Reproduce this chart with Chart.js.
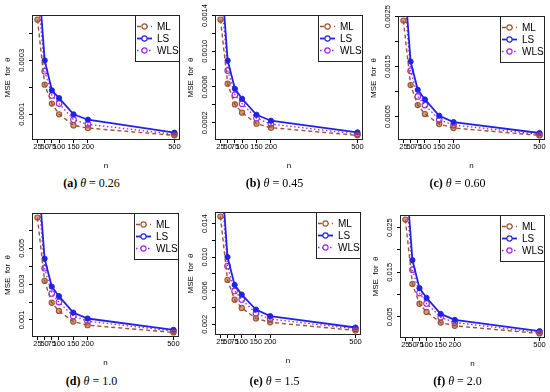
<!DOCTYPE html>
<html>
<head>
<meta charset="utf-8">
<script src="https://cdn.jsdelivr.net/npm/chart.js@4.4.1/dist/chart.umd.min.js"></script>
<style>
  body { margin: 0; background: #fff; }
  #wrap { position: relative; width: 550px; height: 392px; overflow: hidden; }
  canvas { position: absolute; }
  .cap { position: absolute; width: 183px; text-align: center; font-family: "Liberation Serif", serif; font-size: 12px; line-height: 14px; color: #000; }
</style>
</head>
<body>
<div id="wrap"></div>
<script>
const nValues = [25, 50, 75, 100, 150, 200, 500];

// (a) theta = 0.26
const mlA  = [0.000451, 0.000210, 0.000140, 0.000100, 0.000059, 0.000049, 0.000022];
const lsA  = [0.000660, 0.000300, 0.000189, 0.000160, 0.000100, 0.000080, 0.000032];
const wlsA = [0.000570, 0.000260, 0.000170, 0.000140, 0.000080, 0.000063, 0.000026];
// (b) theta = 0.45
const mlB  = [0.001354, 0.000636, 0.000404, 0.000312, 0.000189, 0.000144, 0.000058];
const lsB  = [0.001980, 0.000896, 0.000580, 0.000468, 0.000289, 0.000222, 0.000092];
const wlsB = [0.001720, 0.000784, 0.000513, 0.000412, 0.000251, 0.000184, 0.000073];
// (c) theta = 0.60
const mlC  = [0.002420, 0.001128, 0.000728, 0.000548, 0.000348, 0.000268, 0.000120];
const lsC  = [0.003520, 0.001600, 0.001034, 0.000840, 0.000514, 0.000388, 0.000168];
const wlsC = [0.003110, 0.001414, 0.000900, 0.000728, 0.000434, 0.000328, 0.000140];
// (d) theta = 1.0
const mlD  = [0.00671, 0.003175, 0.00196, 0.00150, 0.00091, 0.000707, 0.000304];
const lsD  = [0.00972, 0.00442, 0.00286, 0.002325, 0.00141, 0.00108, 0.000448];
const wlsD = [0.00856, 0.00389, 0.002474, 0.001994, 0.00122, 0.00093, 0.000376];
// (e) theta = 1.5
const mlE  = [0.01485, 0.00729, 0.00492, 0.00395, 0.00270, 0.00223, 0.00126];
const lsE  = [0.02200, 0.01002, 0.00670, 0.00554, 0.00375, 0.00297, 0.00161];
const wlsE = [0.01960, 0.00893, 0.00597, 0.00496, 0.00332, 0.00262, 0.00145];
// (f) theta = 2.0
const mlF  = [0.02682, 0.01240, 0.00795, 0.00611, 0.00373, 0.00300, 0.00129];
const lsF  = [0.03900, 0.01772, 0.01144, 0.00928, 0.00567, 0.00433, 0.00180];
const wlsF = [0.03430, 0.01557, 0.01033, 0.00802, 0.00491, 0.00373, 0.00151];

// y axis ticks, only some of them carry a label (like R drops overlapping ones)
const yTicksA = [0.0001, 0.0002, 0.0003, 0.0004];
const yLabelsA = ["0.0001", "", "0.0003", ""];
const yTicksB = [0.0002, 0.0004, 0.0006, 0.0008, 0.0010, 0.0012, 0.0014];
const yLabelsB = ["0.0002", "", "0.0006", "", "0.0010", "", "0.0014"];
const yTicksC = [0.0005, 0.0010, 0.0015, 0.0020, 0.0025];
const yLabelsC = ["0.0005", "", "0.0015", "", "0.0025"];
const yTicksD = [0.001, 0.002, 0.003, 0.004, 0.005, 0.006];
const yLabelsD = ["0.001", "", "0.003", "", "0.005", ""];
const yTicksE = [0.002, 0.004, 0.006, 0.008, 0.010, 0.012, 0.014];
const yLabelsE = ["0.002", "", "0.006", "", "0.010", "", "0.014"];
const yTicksF = [0.005, 0.010, 0.015, 0.020, 0.025];
const yLabelsF = ["0.005", "", "0.015", "", "0.025"];

const seriesNames = ["ML", "LS", "WLS"];
const letters = ["a", "b", "c", "d", "e", "f"];
const thetas = ["0.26", "0.45", "0.60", "1.0", "1.5", "2.0"];

const SANS = '"Liberation Sans", Arial, sans-serif';
const wrap = document.getElementById("wrap");

const panels = [
  { ml: mlA, ls: lsA, wls: wlsA, yTicks: yTicksA, yLabels: yLabelsA, box: [32, 15, 181, 140] },
  { ml: mlB, ls: lsB, wls: wlsB, yTicks: yTicksB, yLabels: yLabelsB, box: [215, 15, 364, 140] },
  { ml: mlC, ls: lsC, wls: wlsC, yTicks: yTicksC, yLabels: yLabelsC, box: [398, 16, 546, 140] },
  { ml: mlD, ls: lsD, wls: wlsD, yTicks: yTicksD, yLabels: yLabelsD, box: [32, 213, 180, 337] },
  { ml: mlE, ls: lsE, wls: wlsE, yTicks: yTicksE, yLabels: yLabelsE, box: [215, 212, 362, 335] },
  { ml: mlF, ls: lsF, wls: wlsF, yTicks: yTicksF, yLabels: yLabelsF, box: [400, 215, 546, 338] },
];

function pairs(vals) {
  return nValues.map((n, k) => ({ x: n, y: vals[k] }));
}

function makePanel(p, i) {
  const [bl, bt, br, bb] = p.box;
  const cv = document.createElement("canvas");
  cv.width = br - bl + 36;
  cv.height = bb - bt + 47;
  cv.style.left = (bl - 32) + "px";
  cv.style.top = (bt - 15) + "px";
  wrap.appendChild(cv);

  // R style axis range: data range of the first series + 4%
  const lo = Math.min(...p.ml), hi = Math.max(...p.ml);
  const yPad = (hi - lo) * 0.04;
  const xLo = nValues[0], xHi = nValues[nValues.length - 1];
  const xPad = (xHi - xLo) * 0.04;

  const rPlot = {
    id: "rPlot",
    afterDraw(chart) {
      const { ctx, chartArea: a } = chart;
      const ys = chart.scales.y;
      ctx.save();
      // plot box
      ctx.strokeStyle = "#222";
      ctx.lineWidth = 1;
      ctx.strokeRect(Math.round(a.left) + 0.5, Math.round(a.top) + 0.5,
        Math.round(a.right - a.left) - 1, Math.round(a.bottom - a.top) - 1);

      // y tick labels, parallel to the axis
      ctx.fillStyle = "#000";
      ctx.font = "7.5px " + SANS;
      ctx.textAlign = "center";
      ctx.textBaseline = "alphabetic";
      p.yTicks.forEach((v, k) => {
        if (!p.yLabels[k]) return;
        ctx.save();
        ctx.translate(a.left - 8, ys.getPixelForValue(v));
        ctx.rotate(-Math.PI / 2);
        ctx.fillText(p.yLabels[k], 0, 0);
        ctx.restore();
      });

      // legend, top right inside the box
      const W = 45, H = 47;
      const L = Math.round(a.right) - W, T = Math.round(a.top);
      ctx.fillStyle = "#fff";
      ctx.fillRect(L, T, W, H);
      ctx.strokeStyle = "#222";
      ctx.strokeRect(L + 0.5, T + 0.5, W - 1, H - 1);
      chart.data.datasets.forEach((ds, k) => {
        const y = T + 11.5 + k * 12;
        ctx.save();
        ctx.strokeStyle = ds.borderColor;
        ctx.lineWidth = ds.borderWidth;
        ctx.setLineDash(ds.borderDash || []);
        ctx.beginPath();
        ctx.moveTo(L + 2, y);
        ctx.lineTo(L + 17, y);
        ctx.stroke();
        ctx.setLineDash([]);
        ctx.beginPath();
        ctx.arc(L + 9.5, y, 2.6, 0, Math.PI * 2);
        ctx.fillStyle = "#fff";
        ctx.fill();
        ctx.lineWidth = 1.1;
        ctx.stroke();
        ctx.fillStyle = "#000";
        ctx.font = "10px " + SANS;
        ctx.textAlign = "left";
        ctx.textBaseline = "middle";
        ctx.fillText(ds.label, L + 22, y + 0.5);
        ctx.restore();
      });
      ctx.restore();
    }
  };

  new Chart(cv, {
    type: "line",
    data: {
      datasets: [
        {
          label: seriesNames[0],
          data: pairs(p.ml),
          borderColor: "#a0522d",
          borderWidth: 1.4,
          borderDash: [4, 3],
          pointRadius: 2.6,
          pointBorderWidth: 1.1,
          pointBorderColor: "#a0522d",
          pointBackgroundColor: "rgba(160,82,45,0.55)",
        },
        {
          label: seriesNames[1],
          data: pairs(p.ls),
          borderColor: "#2222e6",
          borderWidth: 1.8,
          pointRadius: 2.6,
          pointBorderWidth: 1,
          pointBorderColor: "#2222e6",
          pointBackgroundColor: "#2222e6",
        },
        {
          label: seriesNames[2],
          data: pairs(p.wls),
          borderColor: "#a020f0",
          borderWidth: 1.3,
          borderDash: [1.5, 2.5],
          pointRadius: 2.8,
          pointBorderWidth: 1.1,
          pointBorderColor: "#a020f0",
          pointBackgroundColor: "rgba(0,0,0,0)",
        },
      ],
    },
    options: {
      responsive: false,
      animation: false,
      layout: { padding: { top: 15, right: 4, left: 0, bottom: 0 } },
      elements: { line: { tension: 0 } },
      plugins: {
        legend: { display: false },
        tooltip: { enabled: false },
      },
      scales: {
        x: {
          type: "linear",
          min: xLo - xPad,
          max: xHi + xPad,
          afterBuildTicks: (s) => { s.ticks = nValues.map((v) => ({ value: v })); },
          afterFit: (s) => { s.height = 32; },
          ticks: {
            autoSkip: false,
            maxRotation: 0,
            minRotation: 0,
            padding: -1,
            color: "#000",
            font: { size: 7.5, family: SANS },
            callback: (v) => String(v),
          },
          grid: { drawOnChartArea: false, tickLength: 3, color: "#000" },
          border: { display: false },
          title: {
            display: true,
            text: "n",
            color: "#000",
            padding: { top: 0, bottom: 1 },
            font: { size: 8, family: SANS },
          },
        },
        y: {
          min: lo - yPad,
          max: hi + yPad,
          afterBuildTicks: (s) => { s.ticks = p.yTicks.map((v) => ({ value: v })); },
          afterFit: (s) => { s.width = 32; },
          ticks: { display: false },
          grid: { drawOnChartArea: false, tickLength: 3, color: "#000" },
          border: { display: false },
          title: {
            display: true,
            text: "MSE  for  θ",
            color: "#000",
            padding: { top: 3, bottom: 0 },
            font: { size: 8, family: SANS },
          },
        },
      },
    },
    plugins: [rPlot],
  });

  const cap = document.createElement("div");
  cap.className = "cap";
  cap.style.left = (i % 3) * 183 + "px";
  cap.style.top = (i < 3 ? 176 : 374) + "px";
  cap.innerHTML = "<b>(" + letters[i] + ")</b> <i>θ</i> = " + thetas[i];
  wrap.appendChild(cap);
}

panels.forEach(makePanel);
</script>
</body>
</html>
